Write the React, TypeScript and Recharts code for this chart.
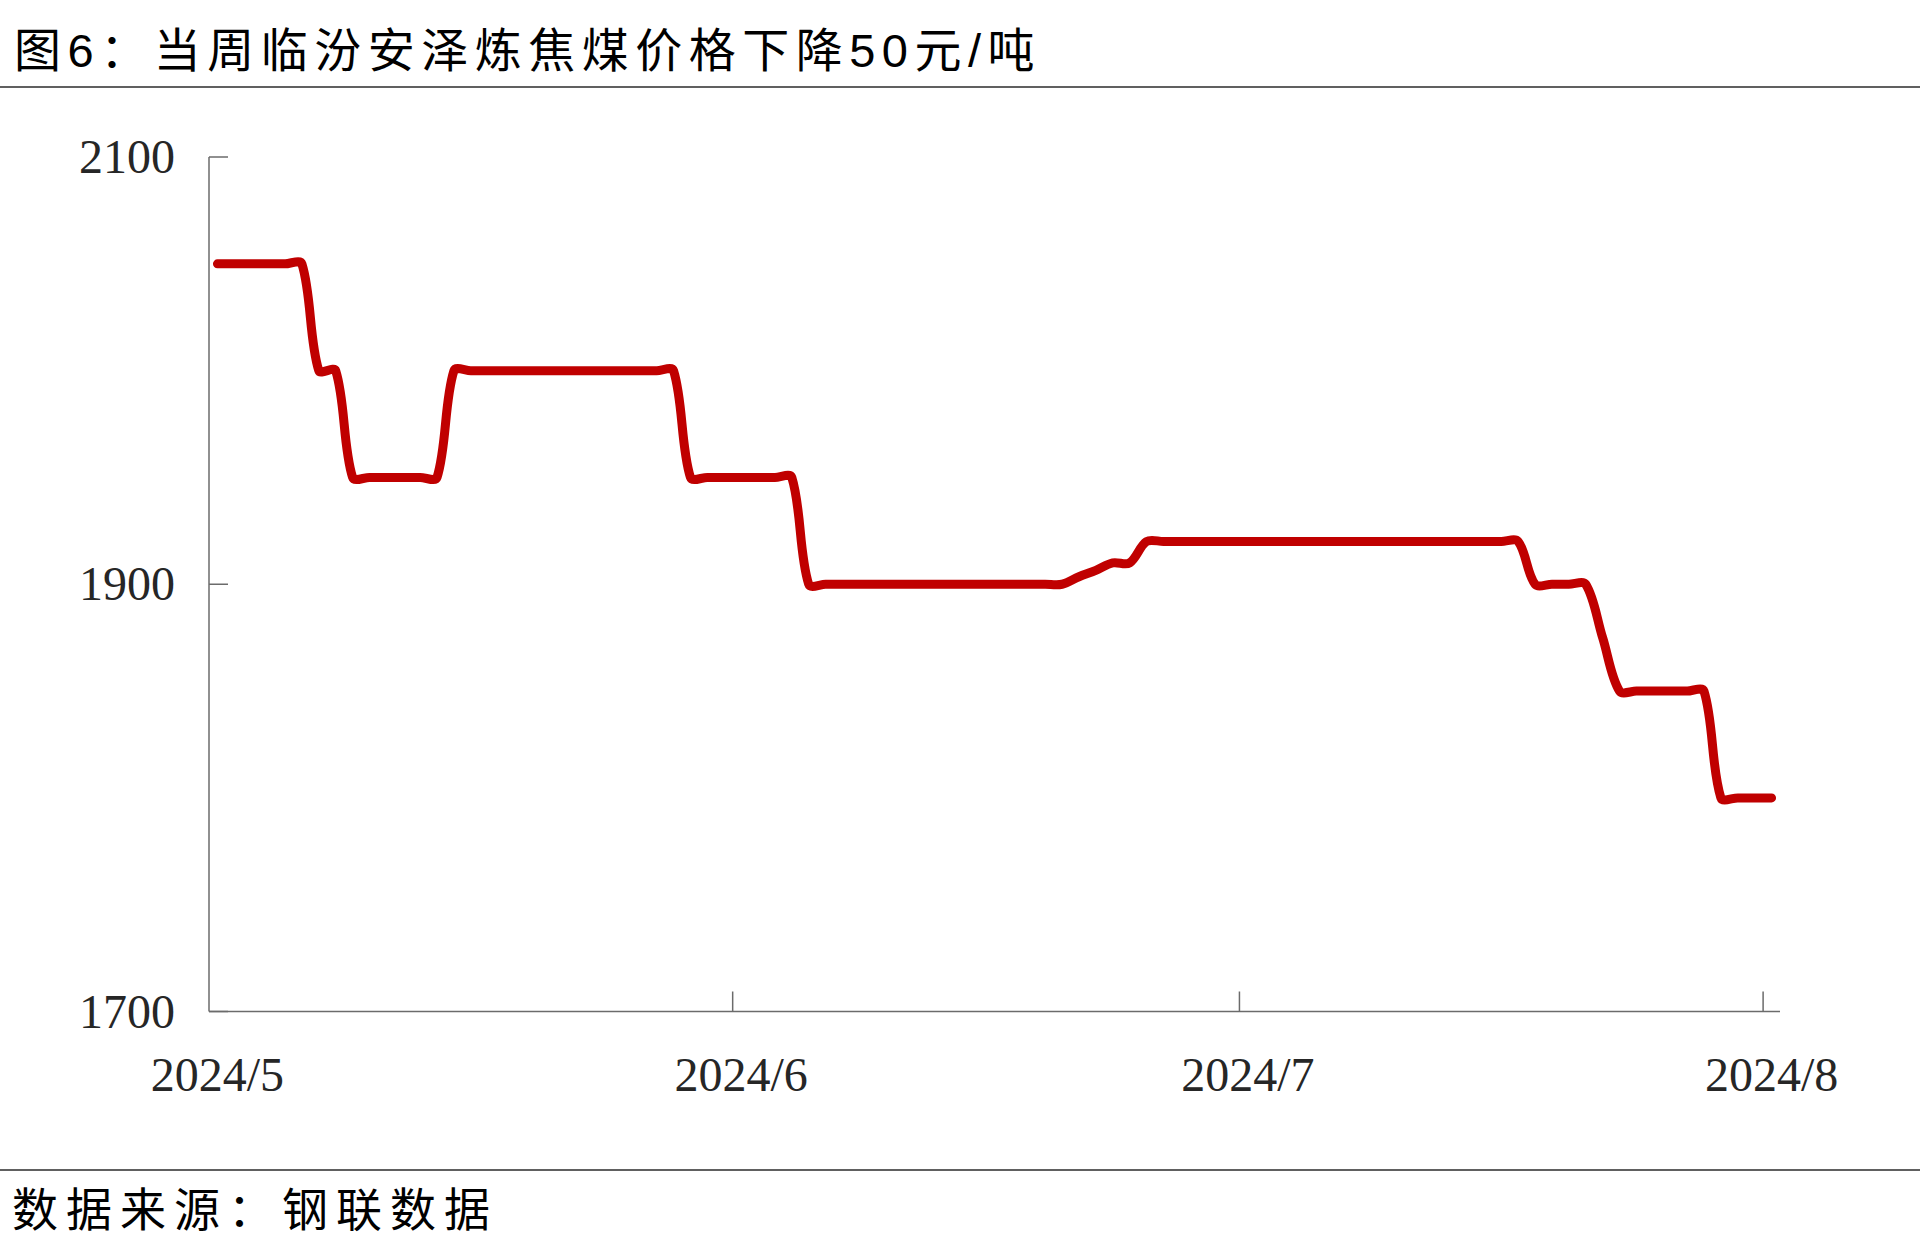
import React from 'react';
import { LineChart, Line, XAxis, YAxis } from 'recharts';

// ---- data ----
const startDate = '2024-05-01';
// daily price (元/吨), 2024-05-01 … 2024-08-01
const prices: number[] = [
  2050, 2050, 2050, 2050, 2050, 2050,
  2000, 2000,
  1950, 1950, 1950, 1950, 1950, 1950,
  2000, 2000, 2000, 2000, 2000, 2000, 2000, 2000, 2000, 2000, 2000, 2000, 2000, 2000,
  1950, 1950, 1950, 1950, 1950, 1950, 1950,
  1900, 1900, 1900, 1900, 1900, 1900, 1900, 1900, 1900, 1900, 1900, 1900, 1900, 1900, 1900, 1900,
  1903.5, 1906.5, 1910, 1910,
  1920, 1920, 1920, 1920, 1920, 1920, 1920, 1920, 1920, 1920, 1920, 1920, 1920, 1920, 1920, 1920,
  1920, 1920, 1920, 1920, 1920, 1920, 1920,
  1900, 1900, 1900, 1900,
  1875,
  1850, 1850, 1850, 1850, 1850, 1850,
  1800, 1800, 1800, 1800,
];
const xTickDays = [0, 31, 61, 92];
const xTickLabels = ['2024/5', '2024/6', '2024/7', '2024/8'];
const yTicks = [1700, 1900, 2100];
const yDomain = [1700, 2100];
const xDomain = [0, 93];

const titleText = '图6：当周临汾安泽炼焦煤价格下降50元/吨';
const sourceText = '数据来源：钢联数据';

// each daily point sits in the middle of its day slot
const data = prices.map((v, i) => ({ day: i + 0.5, price: v, start: startDate }));

// ---- layout ----
const W = 1920;
const H = 1254;
const PLOT_LEFT = 209;
const PLOT_RIGHT = 1780;
const PLOT_TOP = 157;
const PLOT_BOTTOM = 1011.5;
const AXIS_W = 60;
const AXIS_H = 60;
const AXIS_COLOR = '#6b6b6b';
const TEXT_COLOR = '#262626';
const SERIF = "'Liberation Serif', 'Times New Roman', serif";
const CJK = "'Liberation Sans', 'Noto Sans CJK SC', sans-serif";
const HALF_DAY = (PLOT_RIGHT - PLOT_LEFT) / (xDomain[1] - xDomain[0]) / 2;

// Excel-like smoothed line: Catmull-Rom tangents, arms scaled by adjacent segment lengths
function excelCurve(context: any) {
  let pts: number[][] = [];
  const dist = (a: number[], b: number[]) => Math.hypot(b[0] - a[0], b[1] - a[1]);
  return {
    areaStart() {},
    areaEnd() {},
    lineStart() {
      pts = [];
    },
    point(x: number, y: number) {
      pts.push([+x, +y]);
    },
    lineEnd() {
      const n = pts.length;
      if (!n) return;
      context.moveTo(pts[0][0], pts[0][1]);
      if (n === 1) return;
      const f = 1 / 6;
      // out arm and in arm at every point
      const outArm: number[][] = [];
      const inArm: number[][] = [];
      for (let i = 0; i < n; i++) {
        const prev = pts[Math.max(0, i - 1)];
        const next = pts[Math.min(n - 1, i + 1)];
        const tx = (next[0] - prev[0]) * f;
        const ty = (next[1] - prev[1]) * f;
        const dPrev = dist(prev, pts[i]);
        const dNext = dist(pts[i], next);
        const s = dPrev + dNext;
        let kOut = 1;
        let kIn = 1;
        if (s > 0 && i > 0 && i < n - 1) {
          kOut = (2 * dNext) / s;
          kIn = (2 * dPrev) / s;
        }
        outArm.push([tx * kOut, ty * kOut]);
        inArm.push([tx * kIn, ty * kIn]);
      }
      for (let i = 0; i < n - 1; i++) {
        const p1 = pts[i];
        const p2 = pts[i + 1];
        context.bezierCurveTo(
          p1[0] + outArm[i][0],
          p1[1] + outArm[i][1],
          p2[0] - inArm[i + 1][0],
          p2[1] - inArm[i + 1][1],
          p2[0],
          p2[1],
        );
      }
    },
  };
}

const YTick = (props: any) => {
  const { y, payload } = props;
  return (
    <g>
      <line x1={PLOT_LEFT} x2={PLOT_LEFT + 19} y1={y} y2={y} stroke={AXIS_COLOR} strokeWidth={1.5} />
      <text
        x={175}
        y={y + 16}
        textAnchor="end"
        fontFamily={SERIF}
        fontSize={48}
        fill={TEXT_COLOR}
      >
        {payload.value}
      </text>
    </g>
  );
};

const XTick = (props: any) => {
  const { x, payload } = props;
  const idx = xTickDays.indexOf(payload.value);
  return (
    <g>
      {idx > 0 && (
        <line x1={x} x2={x} y1={PLOT_BOTTOM} y2={PLOT_BOTTOM - 20} stroke={AXIS_COLOR} strokeWidth={1.5} />
      )}
      <text
        x={x + HALF_DAY}
        y={PLOT_BOTTOM + 79}
        textAnchor="middle"
        fontFamily={SERIF}
        fontSize={48}
        fill={TEXT_COLOR}
      >
        {xTickLabels[idx]}
      </text>
    </g>
  );
};

export default function App() {
  return (
    <div
      style={{
        position: 'absolute',
        left: 0,
        top: 0,
        width: W,
        height: H,
        background: '#ffffff',
        overflow: 'hidden',
      }}
    >
      <LineChart
        width={W}
        height={H}
        data={data}
        style={{ position: 'absolute', left: 0, top: 0 }}
        margin={{
          top: PLOT_TOP,
          right: W - PLOT_RIGHT,
          bottom: H - PLOT_BOTTOM - AXIS_H,
          left: PLOT_LEFT - AXIS_W,
        }}
      >
        <XAxis
          dataKey="day"
          type="number"
          domain={xDomain}
          ticks={xTickDays}
          height={AXIS_H}
          axisLine={{ stroke: AXIS_COLOR, strokeWidth: 1.5 }}
          tickLine={false}
          tick={<XTick />}
          interval={0}
          allowDataOverflow
        />
        <YAxis
          type="number"
          domain={yDomain}
          ticks={yTicks}
          width={AXIS_W}
          axisLine={{ stroke: AXIS_COLOR, strokeWidth: 1.5 }}
          tickLine={false}
          tick={<YTick />}
          interval={0}
          allowDataOverflow
        />
        <Line
          dataKey="price"
          type={excelCurve as any}
          stroke="#C00000"
          strokeWidth={9}
          strokeLinecap="round"
          strokeLinejoin="round"
          dot={false}
          activeDot={false}
          isAnimationActive={false}
        />
      </LineChart>
      <svg
        width={W}
        height={H}
        style={{ position: 'absolute', left: 0, top: 0, pointerEvents: 'none' }}
      >
        <text x={14} y={67} fontFamily={CJK} fontSize={47} letterSpacing={6.5} fill="#000">
          {titleText}
        </text>
        <rect x={0} y={86} width={W} height={2} fill="#606060" />
        <rect x={0} y={1169} width={W} height={2} fill="#606060" />
        <text x={12} y={1226} fontFamily={CJK} fontSize={46} letterSpacing={8} fill="#000">
          {sourceText}
        </text>
      </svg>
    </div>
  );
}
